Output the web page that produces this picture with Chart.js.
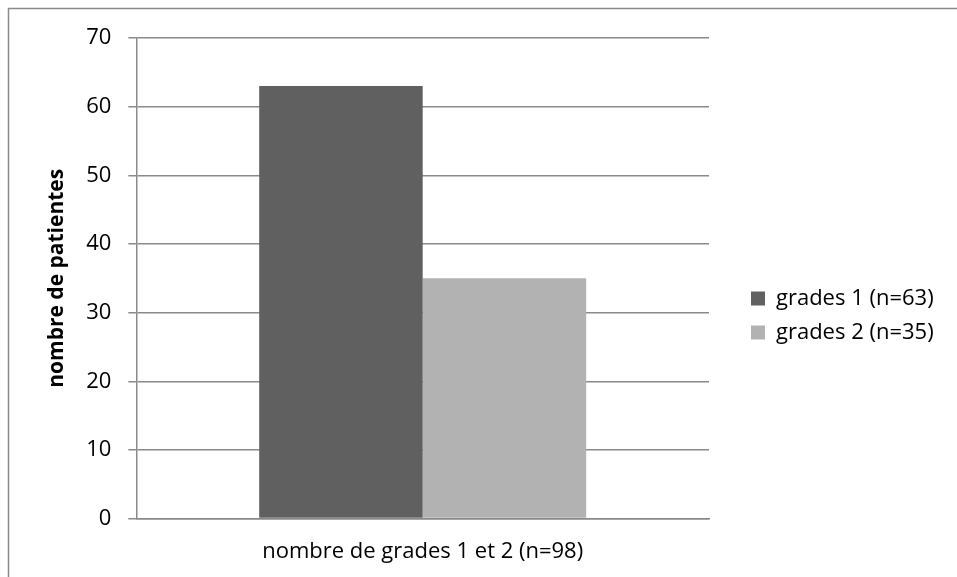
<!DOCTYPE html>
<html>
<head>
<meta charset="utf-8">
<script src="https://cdn.jsdelivr.net/npm/chart.js@4/dist/chart.umd.min.js"></script>
<style>
  html, body { margin: 0; padding: 0; background: #fff; }
  #wrap { width: 957px; height: 577px; position: relative; }
</style>
</head>
<body>
<div id="wrap"><canvas id="c" width="957" height="577"></canvas></div>
<script>
// Patient counts by grade
const categories = ['nombre de grades 1 et 2 (n=98)'];
const seriesLabels = ['grades 1 (n=63)', 'grades 2 (n=35)'];
const grade1 = [63];
const grade2 = [35];
const yTicks = [0, 10, 20, 30, 40, 50, 60, 70];

const FONT = "'Open Sans', 'Liberation Sans', sans-serif";
const FS = 22;
const GRID = '#8a8a8a';

// Legend column: fixed width, items pushed away from the plot
const LEGEND_WIDTH = 248;
const LEGEND_SHIFT_X = 30;
const LEGEND_SHIFT_Y = 4;

const legendPlacement = {
  id: 'legendPlacement',
  beforeLayout(chart) {
    const lg = chart.legend;
    if (lg && !lg._fixedFit) {
      const fit = lg.fit.bind(lg);
      lg.fit = function () { fit(); this.width = LEGEND_WIDTH; };
      lg._fixedFit = true;
    }
  },
  afterLayout(chart) {
    const lg = chart.legend;
    if (lg) {
      lg.left += LEGEND_SHIFT_X;
      lg.right += LEGEND_SHIFT_X;
      lg.top += LEGEND_SHIFT_Y;
      lg.bottom += LEGEND_SHIFT_Y;
    }
  }
};

// Outer frame of the chart (top and left edges)
const framePlugin = {
  id: 'frame',
  afterDraw(chart) {
    const ctx = chart.ctx;
    ctx.save();
    ctx.strokeStyle = '#8a8a8a';
    ctx.lineWidth = 1.5;
    ctx.beginPath();
    ctx.moveTo(8.5, 577);
    ctx.lineTo(8.5, 8.5);
    ctx.lineTo(957, 8.5);
    ctx.stroke();
    ctx.restore();
  }
};

new Chart(document.getElementById('c'), {
  type: 'bar',
  data: {
    labels: categories,
    datasets: [
      { label: seriesLabels[0], data: grade1, backgroundColor: '#606060' },
      { label: seriesLabels[1], data: grade2, backgroundColor: '#b2b2b2' }
    ]
  },
  options: {
    responsive: false,
    animation: false,
    devicePixelRatio: 1,
    categoryPercentage: 0.571,
    barPercentage: 1,
    layout: { padding: { left: 44, top: 38, right: 0, bottom: -8 } },
    plugins: {
      legend: {
        position: 'right',
        align: 'center',
        labels: {
          font: { family: FONT, size: FS },
          color: '#000',
          boxWidth: 14,
          boxHeight: 14,
          padding: 12
        }
      },
      tooltip: { enabled: false }
    },
    scales: {
      x: {
        grid: { display: false, drawTicks: false },
        border: { color: GRID, width: 1.5 },
        ticks: { font: { family: FONT, size: FS }, color: '#000', padding: 20 }
      },
      y: {
        min: 0,
        max: 70,
        afterBuildTicks(scale) { scale.ticks = yTicks.map(v => ({ value: v })); },
        grid: { color: GRID, lineWidth: 1.5, tickLength: 8 },
        border: { color: GRID, width: 1.5 },
        ticks: { font: { family: FONT, size: FS }, color: '#000', padding: 17 },
        title: {
          display: true,
          text: 'nombre de patientes',
          font: { family: FONT, size: FS - 1, weight: 'bold' },
          color: '#000',
          padding: { top: 0, bottom: 0 }
        }
      }
    }
  },
  plugins: [legendPlacement, framePlugin]
});
</script>
</body>
</html>
